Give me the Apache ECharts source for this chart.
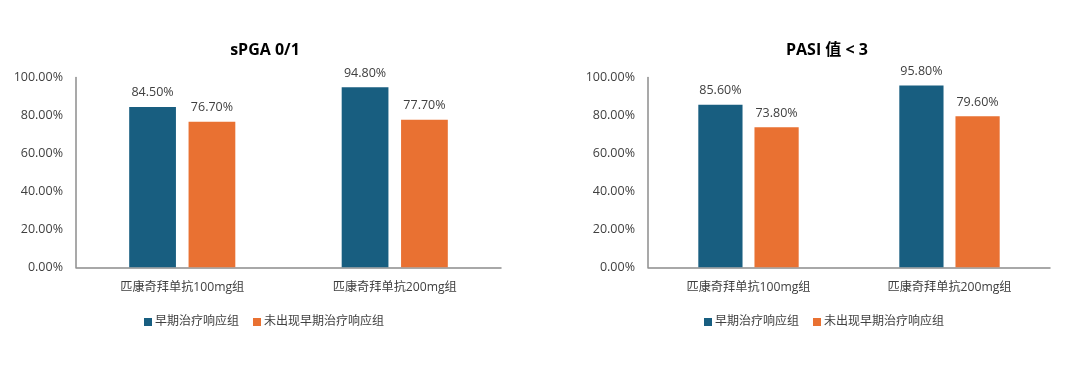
<!DOCTYPE html>
<html>
<head>
<meta charset="utf-8">
<script src="https://cdn.jsdelivr.net/npm/echarts@6/dist/echarts.min.js"></script>
<style>html,body{margin:0;padding:0;background:#fff;}#c{width:1080px;height:372px;}</style>
</head>
<body>
<div id="c"></div>
<script>
const categories = ['匹康奇拜单抗100mg组', '匹康奇拜单抗200mg组'];
const seriesNames = ['早期治疗响应组', '未出现早期治疗响应组'];
const titles = ['sPGA 0/1', 'PASI 值 < 3'];
const spgaEarly = [84.5, 94.8];
const spgaNonEarly = [76.7, 77.7];
const pasiEarly = [85.6, 95.8];
const pasiNonEarly = [73.8, 79.6];

const FONT = '"Open Sans", "Noto Sans CJK SC", sans-serif';
const BLUE = '#185E80';
const ORANGE = '#E97132';
const TXT = '#404040';
const AXIS = '#8c8c8c';

const grids = [
  {left: 76, right: 579, top: 77.5, bottom: 104.7},
  {left: 648, right: 30, top: 77.5, bottom: 104.7}
];

function xAx(i) {
  return {
    type: 'category', gridIndex: i, data: categories,
    axisLine: {show: true, lineStyle: {color: AXIS, width: 1.5}},
    axisTick: {show: false},
    axisLabel: {color: TXT, fontSize: 12.2, fontFamily: FONT, margin: 14}
  };
}
function yAx(i) {
  return {
    type: 'value', gridIndex: i, min: 0, max: 100, interval: 20,
    axisLine: {show: true, lineStyle: {color: AXIS, width: 1.5}},
    axisTick: {show: false},
    splitLine: {show: false},
    axisLabel: {color: TXT, fontSize: 12.5, fontFamily: FONT, margin: 13,
      formatter: v => v.toFixed(2) + '%'}
  };
}
function bar(name, data, color, i) {
  return {
    type: 'bar', name: name, data: data, xAxisIndex: i, yAxisIndex: i,
    barWidth: '22%', barGap: '27%',
    itemStyle: {color: color},
    label: {show: true, position: 'top', distance: 8, color: TXT, fontSize: 12.5, fontFamily: FONT,
      formatter: p => p.value.toFixed(2) + '%'}
  };
}

const chart = echarts.init(document.getElementById('c'));
chart.setOption({
  animation: false,
  backgroundColor: '#fff',
  title: [
    {text: titles[0], left: 260, top: 37, textAlign: 'center',
      textStyle: {fontSize: 16, fontWeight: 'bold', color: '#000', fontFamily: FONT}},
    {text: titles[1], left: 822, top: 37, textAlign: 'center',
      textStyle: {fontSize: 16, fontWeight: 'bold', color: '#000', fontFamily: FONT}}
  ],
  legend: [
    {data: seriesNames, left: 139, top: 311, icon: 'rect', itemWidth: 8, itemHeight: 8, itemGap: 14,
      textStyle: {color: TXT, fontSize: 12, fontFamily: FONT, padding: [0, 0, 0, -2]}},
    {data: seriesNames, left: 699, top: 311, icon: 'rect', itemWidth: 8, itemHeight: 8, itemGap: 14,
      textStyle: {color: TXT, fontSize: 12, fontFamily: FONT, padding: [0, 0, 0, -2]}}
  ],
  grid: grids,
  xAxis: [xAx(0), xAx(1)],
  yAxis: [yAx(0), yAx(1)],
  series: [
    bar(seriesNames[0], spgaEarly, BLUE, 0),
    bar(seriesNames[1], spgaNonEarly, ORANGE, 0),
    bar(seriesNames[0], pasiEarly, BLUE, 1),
    bar(seriesNames[1], pasiNonEarly, ORANGE, 1)
  ]
});
</script>
</body>
</html>
